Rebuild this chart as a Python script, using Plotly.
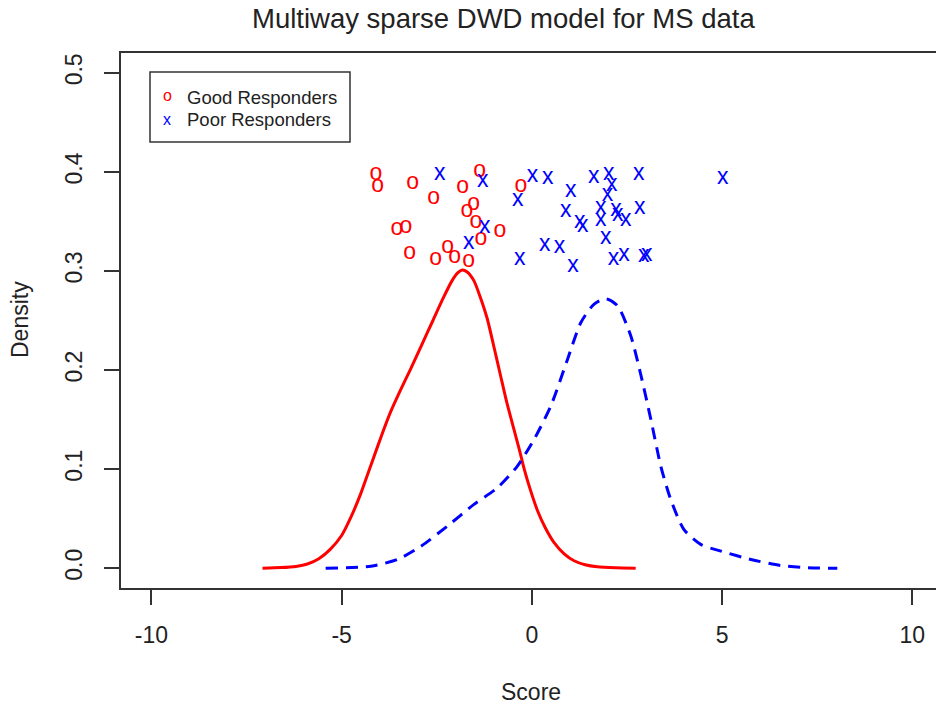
import plotly.graph_objects as go

# Scores of each responder group (x) with their vertical jitter (y)
good_x = [-4.10, -4.05, -3.13, -2.58, -3.55, -3.31, -3.21, -2.53, -2.21, -2.03,
          -1.66, -1.82, -1.37, -1.53, -1.71, -1.47, -1.34, -0.84, -0.29]
good_y = [0.398, 0.386, 0.389, 0.373, 0.342, 0.344, 0.318, 0.312, 0.324, 0.314,
          0.310, 0.385, 0.401, 0.367, 0.360, 0.349, 0.332, 0.340, 0.386]

poor_x = [-2.42, -1.29, 0.02, 0.42, -0.37, -1.24, -1.66, -0.32, 0.34, 0.73,
          1.08, 0.89, 1.02, 1.63, 2.02, 2.81, 5.02, 2.10, 1.99, 1.26,
          1.34, 1.81, 1.81, 2.21, 2.26, 2.47, 2.84, 1.94, 2.15, 2.42,
          2.94, 3.02]
poor_y = [0.398, 0.391, 0.396, 0.394, 0.371, 0.344, 0.328, 0.312, 0.326, 0.324,
          0.305, 0.360, 0.380, 0.395, 0.398, 0.398, 0.394, 0.387, 0.376, 0.349,
          0.345, 0.363, 0.351, 0.361, 0.356, 0.351, 0.363, 0.333, 0.312, 0.316,
          0.315, 0.316]

# Kernel density curves of the scores
good_dens_x = [-7.08, -6.60, -6.20, -5.90, -5.60, -5.30, -5.00, -4.75, -4.50, -4.23,
               -3.95, -3.71, -3.45, -3.20, -2.90, -2.60, -2.35, -2.10, -1.95, -1.83,
               -1.70, -1.52, -1.35, -1.17, -1.00, -0.82, -0.65, -0.47, -0.33, -0.20,
               -0.03, 0.15, 0.35, 0.58, 0.85, 1.11, 1.40, 1.72, 2.20, 2.73]
good_dens_y = [0.000, 0.0006, 0.0018, 0.0042, 0.0095, 0.019, 0.033, 0.052, 0.075, 0.104,
               0.134, 0.158, 0.180, 0.200, 0.225, 0.250, 0.271, 0.290, 0.298, 0.301,
               0.299, 0.290, 0.273, 0.2515, 0.224, 0.194, 0.166, 0.140, 0.120, 0.100,
               0.078, 0.058, 0.041, 0.026, 0.0145, 0.0075, 0.0035, 0.0014, 0.0004, 0.000]

poor_dens_x = [-5.42, -4.23, -3.53, -2.92, -2.22, -1.52, -0.90, -0.38, 0.06, 0.50,
               0.94, 1.29, 1.64, 1.94, 2.25, 2.60, 2.86, 3.13, 3.39, 3.65,
               4.00, 4.44, 4.97, 5.76, 6.54, 7.25, 8.03]
poor_dens_y = [0.000, 0.002, 0.0088, 0.022, 0.0425, 0.0644, 0.0813, 0.1031, 0.130, 0.1638,
               0.211, 0.248, 0.2666, 0.272, 0.265, 0.2346, 0.196, 0.150, 0.103, 0.0695,
               0.039, 0.024, 0.0172, 0.0088, 0.0027, 0.0004, 0.000]

x_ticks = [-10, -5, 0, 5, 10]
x_ticklabels = ["-10", "-5", "0", "5", "10"]
y_ticks = [0.0, 0.1, 0.2, 0.3, 0.4, 0.5]
y_ticklabels = ["0.0", "0.1", "0.2", "0.3", "0.4", "0.5"]

FONT = "Liberation Sans, Arial, Helvetica, sans-serif"
INK = "#222222"
AXIS = "#333333"
RED = "#ff0000"
BLUE = "#0000ff"

fig = go.Figure()

fig.add_trace(go.Scatter(
    x=good_dens_x, y=good_dens_y, mode="lines",
    line=dict(color=RED, width=3, shape="spline", smoothing=0.6),
    showlegend=False, hoverinfo="skip"))
fig.add_trace(go.Scatter(
    x=poor_dens_x, y=poor_dens_y, mode="lines",
    line=dict(color=BLUE, width=3, dash="12px,8px", shape="spline", smoothing=0.7),
    showlegend=False, hoverinfo="skip"))

# Points drawn as plotting characters "o" and "x"
fig.add_trace(go.Scatter(
    x=good_x, y=good_y, mode="text", text=["o"] * len(good_x),
    textposition="middle center",
    textfont=dict(family=FONT, size=23, color=RED),
    name="Good Responders", showlegend=False))
fig.add_trace(go.Scatter(
    x=poor_x, y=poor_y, mode="text", text=["x"] * len(poor_x),
    textposition="middle center",
    textfont=dict(family=FONT, size=23, color=BLUE),
    name="Poor Responders", showlegend=False))

# plot box: left 121, top 53, bottom 588 (pixels); right edge runs off the page
L, T, B = 121, 53, 117
W, H = 936, 705
plot_h = H - T - B


def py(pix):
    """pixel row -> paper y"""
    return (H - B - pix) / plot_h


def px(pix):
    """pixel column -> paper x"""
    return (pix - L) / (W - L)


annotations = [
    dict(text="Multiway sparse DWD model for MS data", x=px(503), y=py(18),
         xref="paper", yref="paper", showarrow=False, xanchor="center", yanchor="middle",
         font=dict(family=FONT, size=27.5, color=INK)),
    dict(text="Score", x=px(531), y=py(692), xref="paper", yref="paper",
         showarrow=False, xanchor="center", yanchor="middle",
         font=dict(family=FONT, size=23, color=INK)),
    dict(text="Density", x=px(20), y=py(320), xref="paper", yref="paper",
         showarrow=False, xanchor="center", yanchor="middle", textangle=-90,
         font=dict(family=FONT, size=23, color=INK)),
    # legend entries
    dict(text="o", x=px(167), y=py(96), xref="paper", yref="paper",
         showarrow=False, xanchor="center", yanchor="middle",
         font=dict(family=FONT, size=16, color=RED)),
    dict(text="x", x=px(167), y=py(119), xref="paper", yref="paper",
         showarrow=False, xanchor="center", yanchor="middle",
         font=dict(family=FONT, size=16, color=BLUE)),
    dict(text="Good Responders", x=px(185), y=py(97), xref="paper", yref="paper",
         showarrow=False, xanchor="left", yanchor="middle",
         font=dict(family=FONT, size=18.5, color=INK)),
    dict(text="Poor Responders", x=px(185), y=py(120), xref="paper", yref="paper",
         showarrow=False, xanchor="left", yanchor="middle",
         font=dict(family=FONT, size=18.5, color=INK)),
]

shapes = [
    dict(type="rect", xref="paper", yref="paper",
         x0=px(150), x1=px(350), y0=py(142), y1=py(72),
         line=dict(color=AXIS, width=1.5), fillcolor="rgba(0,0,0,0)"),
]

fig.update_layout(
    width=W, height=H,
    margin=dict(l=L, r=0, t=T, b=B, pad=0),
    paper_bgcolor="white", plot_bgcolor="white",
    font=dict(family=FONT, color=INK),
    showlegend=False,
    annotations=annotations,
    shapes=shapes,
    xaxis=dict(range=[-10.8, -10.8 + (W - L) / 38.04],
               tickvals=x_ticks, ticktext=x_ticklabels,
               ticks="outside", ticklen=15, tickwidth=1.5,
               tickcolor=AXIS, showline=True, linecolor=AXIS, linewidth=1.5,
               mirror=True, showgrid=False, zeroline=False,
               tickfont=dict(family=FONT, size=23, color=INK),
               ticklabelstandoff=11),
    yaxis=dict(range=[-0.02, 0.52],
               tickvals=y_ticks, ticktext=y_ticklabels, tickangle=-90,
               ticks="outside", ticklen=15, tickwidth=1.5,
               tickcolor=AXIS, showline=True, linecolor=AXIS, linewidth=1.5,
               mirror=False, showgrid=False, zeroline=False,
               tickfont=dict(family=FONT, size=23, color=INK),
               ticklabelstandoff=13),
)

fig.write_html("out.html")
